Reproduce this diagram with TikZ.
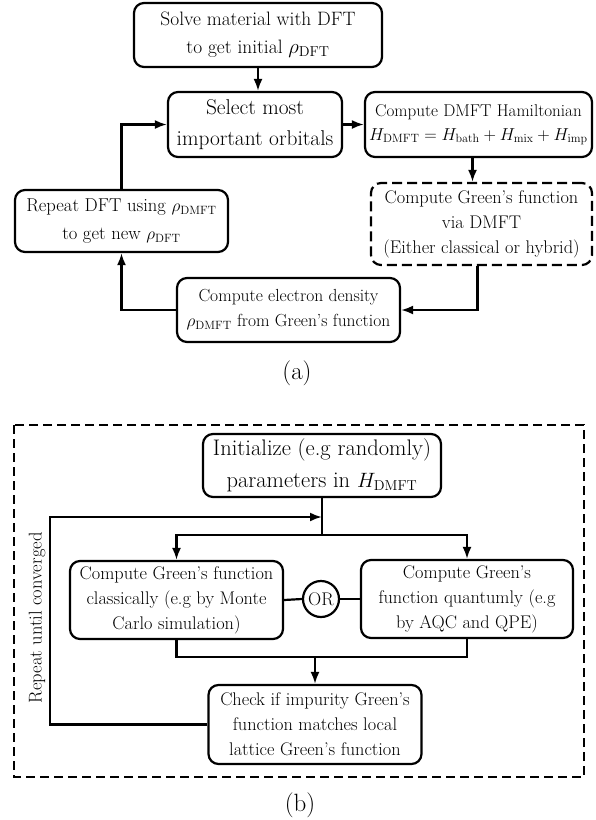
\documentclass[tikz,border=0pt]{standalone}
\usetikzlibrary{arrows.meta,calc}
\begin{document}
\begin{tikzpicture}[x=1pt,y=-1pt,
  box/.style={draw, line width=2.2pt, rounded corners=10pt, align=center, inner sep=2pt},
  dbox/.style={box, dash pattern=on 10pt off 5pt},
  arr/.style={line width=2.2pt, -{Latex[length=12pt,width=9pt]}},
  ln/.style={line width=2.2pt},
  fA/.style={font=\fontsize{18.3}{25}\selectfont},
  fB/.style={font=\fontsize{21.4}{31}\selectfont}]
\useasboundingbox (0,0) rectangle (595,820);
% ---------- (a) ----------
\node[box, minimum width=248pt, minimum height=64pt, font=\fontsize{19.4}{28}\selectfont] (b1) at (258,35)
  {Solve material with DFT\\to get initial $\rho_{\mathrm{DFT}}$};
\node[box, fB, minimum width=174pt, minimum height=65pt] (sel) at (255,124.5)
  {Select most\\important orbitals};
\node[box, minimum width=227pt, minimum height=65pt, inner sep=0pt, font=\fontsize{17.1}{24}\selectfont] (ham) at (478.5,124.5)
  {Compute DMFT Hamiltonian\\$H_{\mathrm{DMFT}} = H_{\mathrm{bath}} + H_{\mathrm{mix}} + H_{\mathrm{imp}}$};
\node[dbox, fA, minimum width=221pt, minimum height=82pt] (dsh) at (481.5,224)
  {Compute Green's function\\via DMFT\\(Either classical or hybrid)};
\node[box, minimum width=213pt, minimum height=62pt, font=\fontsize{18.6}{28}\selectfont] (rep) at (121.5,221)
  {Repeat DFT using $\rho_{\mathrm{DMFT}}$\\to get new $\rho_{\mathrm{DFT}}$};
\node[box, minimum width=223pt, minimum height=64pt, font=\fontsize{17.5}{25}\selectfont] (el) at (288.5,310)
  {Compute electron density\\$\rho_{\mathrm{DMFT}}$ from Green's function};
\node[font=\fontsize{25}{28}\selectfont] (la) at (297,373) {(a)};

\draw[arr] (b1.south) -- (b1.south |- sel.north);
\draw[arr] (sel.east) -- (ham.west);
\draw[arr] ($(ham.south)+(-6,0)$) -- ($(ham.south |- dsh.north)+(-6,0)$);
\draw[arr] ($(dsh.south)+(-4,0)$) |- (el.east);
\draw[arr] (el.west) -| (rep.south);
\draw[arr] (rep.north) |- (sel.west);

% ---------- (b) ----------
\draw[ln, dash pattern=on 9pt off 5pt] (14,425) rectangle (584,777);
\node[box, fB, font=\fontsize{22.5}{32}\selectfont, minimum width=238pt, minimum height=63pt] (init) at (322,465.5)
  {Initialize (e.g randomly)\\parameters in $H_{\mathrm{DMFT}}$};
\node[box, fA, minimum width=213pt, minimum height=78pt] (cls) at (176.5,600)
  {Compute Green's function\\classically (e.g by Monte\\Carlo simulation)};
\node[box, fA, minimum width=212pt, minimum height=78pt] (qnt) at (467,599)
  {Compute Green's\\function quantumly (e.g\\by AQC and QPE)};
\node[draw, circle, line width=2.2pt, inner sep=0pt, minimum size=36pt, fA] (or) at (321,599) {OR};
\node[box, fA, minimum width=213pt, minimum height=79pt] (chk) at (315,724.5)
  {Check if impurity Green's\\function matches local\\lattice Green's function};
\node[rotate=90, font=\fontsize{18.5}{20}\selectfont] (rl) at (37,618) {Repeat until converged};
\node[font=\fontsize{25}{28}\selectfont] (lb) at (300,805) {(b)};

\coordinate (j) at (init.south |- 0,535);
\coordinate (fb) at (init.south |- 0,517);
\coordinate (mg) at (315,657);
\coordinate (lft) at (50,517);
\draw[ln] (init.south) -- (j);
\draw[arr] (j) -| (cls.north);
\draw[arr] (j) -| (qnt.north);
\draw[ln] (cls.east) -- (or.west);
\draw[ln] (or.east) -- (qnt.west);
\draw[ln] (cls.south) |- (mg) -| (qnt.south);
\draw[arr] (mg) -- (chk.north);
\draw[arr] (chk.west) -| (lft) -- (fb);
\end{tikzpicture}
\end{document}
